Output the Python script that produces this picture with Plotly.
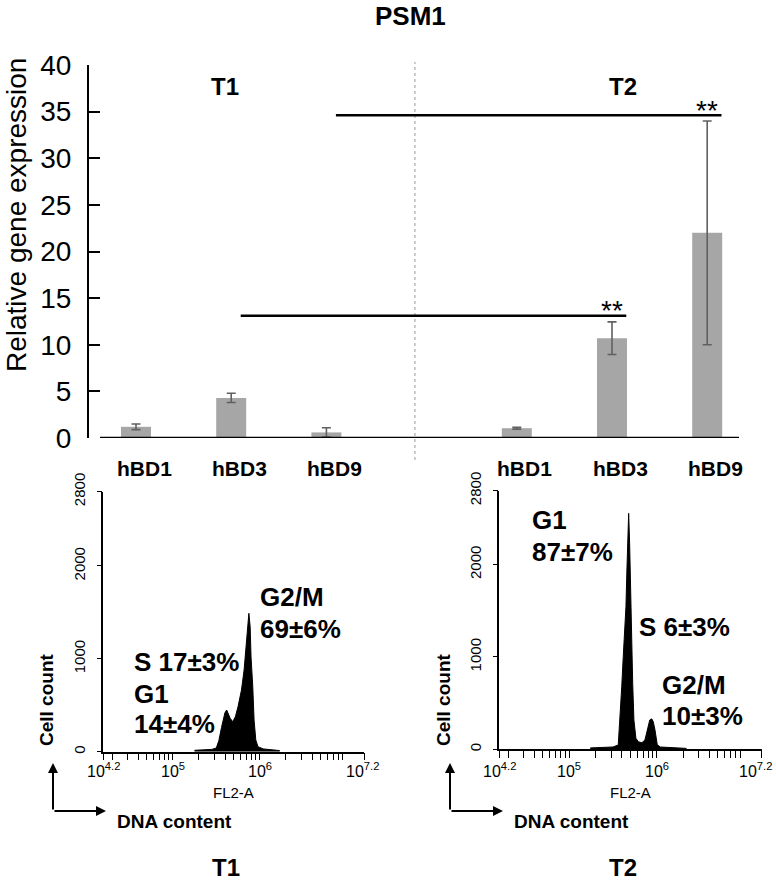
import plotly.graph_objects as go

W, H = 776, 880
FONT = "Arial, Liberation Sans, sans-serif"

# ---------------- data ----------------
genes = ["hBD1", "hBD3", "hBD9"]
timepoints = ["T1", "T2"]
expr_t1 = [1.2, 4.3, 0.6]
err_t1 = [0.3, 0.5, 0.5]
expr_t2 = [1.05, 10.7, 22.0]
err_t2 = [0.1, 1.75, 12.0]
sig_pairs = [("hBD3", 13.1), ("hBD9", 34.6)]
sig_label = "**"

hist_t1_log = [5.25, 5.30, 5.35, 5.40, 5.45, 5.50, 5.53, 5.56, 5.58, 5.60, 5.62, 5.64, 5.66,
               5.69, 5.72, 5.75, 5.79, 5.82, 5.84, 5.86, 5.875, 5.89, 5.90, 5.92, 5.935,
               5.955, 5.98, 6.04, 6.10, 6.17, 6.23]
hist_t1_count = [15, 18, 20, 22, 25, 40, 120, 260, 341, 420, 449, 400, 360,
                 323, 377, 484, 664, 879, 1130, 1310, 1490, 1346, 1023, 700, 341,
                 126, 54, 30, 22, 18, 12]

hist_t2_log = [5.24, 5.30, 5.40, 5.50, 5.56, 5.58, 5.60, 5.617, 5.637, 5.648, 5.659, 5.671,
               5.679, 5.69, 5.702, 5.713, 5.725, 5.739, 5.762, 5.79, 5.83, 5.865, 5.89,
               5.92, 5.942, 5.96, 5.98, 6.006, 6.04, 6.15, 6.25, 6.34]
hist_t2_count = [15, 18, 20, 25, 47, 317, 678, 1003, 1328, 1544, 1941, 2230,
                 2555, 2230, 1652, 1183, 715, 317, 119, 82, 71, 101, 209,
                 317, 330, 300, 209, 50, 25, 20, 15, 10]

# FL2-A axis labels (log10 exponent -> label)
fl2_label_exps = [4.2, 5, 6, 7.2]

phase_labels_t1 = [("G2/M", 258, 597), ("69±6%", 258, 629), ("S 17±3%", 132, 662),
                   ("G1", 132, 694), ("14±4%", 132, 724)]
phase_labels_t2 = [("G1", 530, 520), ("87±7%", 530, 552), ("S 6±3%", 637, 627),
                   ("G2/M", 660, 685), ("10±3%", 660, 716)]


def fx(px):
    return px / W


def fy(py):
    return 1 - py / H


# bar positions: gene index within timepoint group, groups separated by one empty slot
def pos(t, g):
    return t * (len(genes) + 1) + g


fig = go.Figure()

for t, (vals, errs) in enumerate([(expr_t1, err_t1), (expr_t2, err_t2)]):
    fig.add_trace(go.Bar(
        x=[pos(t, g) for g in range(len(genes))], y=vals,
        width=0.315, marker=dict(color="#a6a6a6", line=dict(width=0)),
        error_y=dict(type="data", array=errs, visible=True, color="#606060",
                     thickness=1.6, width=4.5),
        xaxis="x", yaxis="y", showlegend=False))

for name, lg, cnt, ax, ay in [("T1", hist_t1_log, hist_t1_count, "x2", "y2"),
                              ("T2", hist_t2_log, hist_t2_count, "x3", "y3")]:
    fig.add_trace(go.Scatter(
        x=[10 ** v for v in lg], y=cnt, mode="lines", fill="tozeroy",
        line=dict(color="black", width=1), fillcolor="black",
        xaxis=ax, yaxis=ay, showlegend=False))

# log tick positions (major + minor)
log_ticks = [10 ** 4.2]
for k in (4, 5, 6):
    for m in range(1, 10):
        v = m * 10 ** k
        if 10 ** 4.2 < v < 10 ** 7.2:
            log_ticks.append(v)
log_ticks.append(10 ** 7.2)

hist_x = dict(type="log", range=[4.2, 7.2], showline=True, linecolor="black", linewidth=1.5,
              ticks="outside", ticklen=7, tickwidth=1.2, tickcolor="black",
              tickvals=log_ticks, showticklabels=False, showgrid=False, zeroline=False,
              automargin=False)
hist_y = dict(range=[0, 2800], showline=True, linecolor="black", linewidth=1.5,
              ticks="outside", ticklen=5, tickwidth=1.2, tickcolor="black",
              tickvals=[0, 1000, 2000, 2800], tickangle=-90, showgrid=False, zeroline=False,
              tickfont=dict(family=FONT, size=15, color="black"), ticklabelstandoff=6,
              automargin=False)

xmin = (89 - 136) / 95.2
xmax = (739 - 136) / 95.2

fig.update_layout(
    width=W, height=H, margin=dict(l=0, r=0, t=0, b=0, pad=0, autoexpand=False),
    paper_bgcolor="white", plot_bgcolor="white",
    font=dict(family=FONT, color="black"),
    xaxis=dict(domain=[fx(89), fx(739)], range=[xmin, xmax], showline=False,
               showticklabels=False, showgrid=False, zeroline=False, ticks="", automargin=False),
    yaxis=dict(domain=[fy(438), fy(65)], range=[0, 40], tickvals=list(range(0, 41, 5)),
               showline=True, linecolor="black", linewidth=2, ticks="inside",
               ticklen=11, tickwidth=2, tickcolor="black", showgrid=False, zeroline=False,
               tickfont=dict(family=FONT, size=28, color="black"), ticklabelstandoff=10,
               automargin=False),
    xaxis2=dict(domain=[fx(103.3), fx(364)], anchor="y2", **hist_x),
    yaxis2=dict(domain=[fy(751.7), fy(491.7)], anchor="x2", **hist_y),
    xaxis3=dict(domain=[fx(499.3), fx(761.7)], anchor="y3", **hist_x),
    yaxis3=dict(domain=[fy(749.3), fy(490.7)], anchor="x3", **hist_y),
)

shapes = []
# baseline of bar chart
shapes.append(dict(type="line", xref="x", yref="y", x0=(100 - 136) / 95.2, x1=xmax, y0=0, y1=0,
                   line=dict(color="black", width=2.5)))
# divider between timepoints
shapes.append(dict(type="line", xref="x", yref="paper", x0=2.93, x1=2.93, y0=fy(460), y1=fy(62),
                   line=dict(color="#9a9a9a", width=1, dash="dot")))
annotations = []
for gene, level in sig_pairs:
    g = genes.index(gene)
    shapes.append(dict(type="line", xref="x", yref="y", x0=pos(0, g) + 0.1, x1=pos(1, g) + 0.15,
                       y0=level, y1=level, line=dict(color="black", width=2.5)))
    annotations.append(dict(text=sig_label, x=pos(1, g), y=level, xref="x", yref="y",
                            yshift=5, showarrow=False, xanchor="center", yanchor="middle",
                            font=dict(family=FONT, size=28, color="black")))
fig.update_layout(shapes=shapes)


def ann(text, x, y, size, bold=True, xanchor="center", yanchor="middle", angle=0):
    annotations.append(dict(text=text, x=fx(x), y=fy(y), xref="paper", yref="paper",
                            showarrow=False, xanchor=xanchor, yanchor=yanchor, textangle=angle,
                            font=dict(family=FONT, size=size, color="black",
                                      weight="bold" if bold else "normal")))


ann("PSM1", 410, 16, 26)
ann("Relative gene expression", 16, 215, 28, bold=False, angle=-90)
ann("T1", 225, 86, 24)
ann("T2", 623, 86, 24)

for t in range(len(timepoints)):
    for g, gene in enumerate(genes):
        annotations.append(dict(text=gene, x=pos(t, g), y=fy(468), xref="x", yref="paper",
                                xshift=8, showarrow=False, xanchor="center", yanchor="middle",
                                font=dict(family=FONT, size=21, color="black", weight="bold")))

for (txt, x, y) in phase_labels_t1 + phase_labels_t2:
    ann(txt, x, y, 26, xanchor="left")

# FL2-A tick labels as annotations (keeps the right-most one inside the page)
for xref, last_shift in [("x2", -2), ("x3", -6)]:
    for e in fl2_label_exps:
        label = "10<sup>%s</sup>" % (int(e) if e == int(e) else e)
        annotations.append(dict(text=label, x=e, y=fy(770), xref=xref, yref="paper",
                                xshift=last_shift if e == fl2_label_exps[-1] else 0,
                                showarrow=False, xanchor="center", yanchor="middle",
                                font=dict(family=FONT, size=16, color="black")))

for tp, off, center in [("T1", 0, 233.6), ("T2", 397, 630.5)]:
    ann("FL2-A", center, 792, 15, bold=False)
    ann("Cell count", 46 + off, 700, 19, angle=-90)
    ann("DNA content", 174 + off, 821, 19)
    ann(tp, center - 8, 867, 24)
    annotations.append(dict(text="", x=fx(53 + off), y=fy(763), xref="paper", yref="paper",
                            ax=0, ay=48, showarrow=True, arrowhead=2, arrowsize=1,
                            arrowwidth=2, arrowcolor="black", standoff=0))
    annotations.append(dict(text="", x=fx(106 + off), y=fy(811), xref="paper", yref="paper",
                            ax=-53, ay=0, showarrow=True, arrowhead=2, arrowsize=1,
                            arrowwidth=2, arrowcolor="black", standoff=0))

fig.update_layout(annotations=annotations)
fig.write_html("out.html", config={"displayModeBar": False},
               post_script="document.body.style.margin='0px';")
